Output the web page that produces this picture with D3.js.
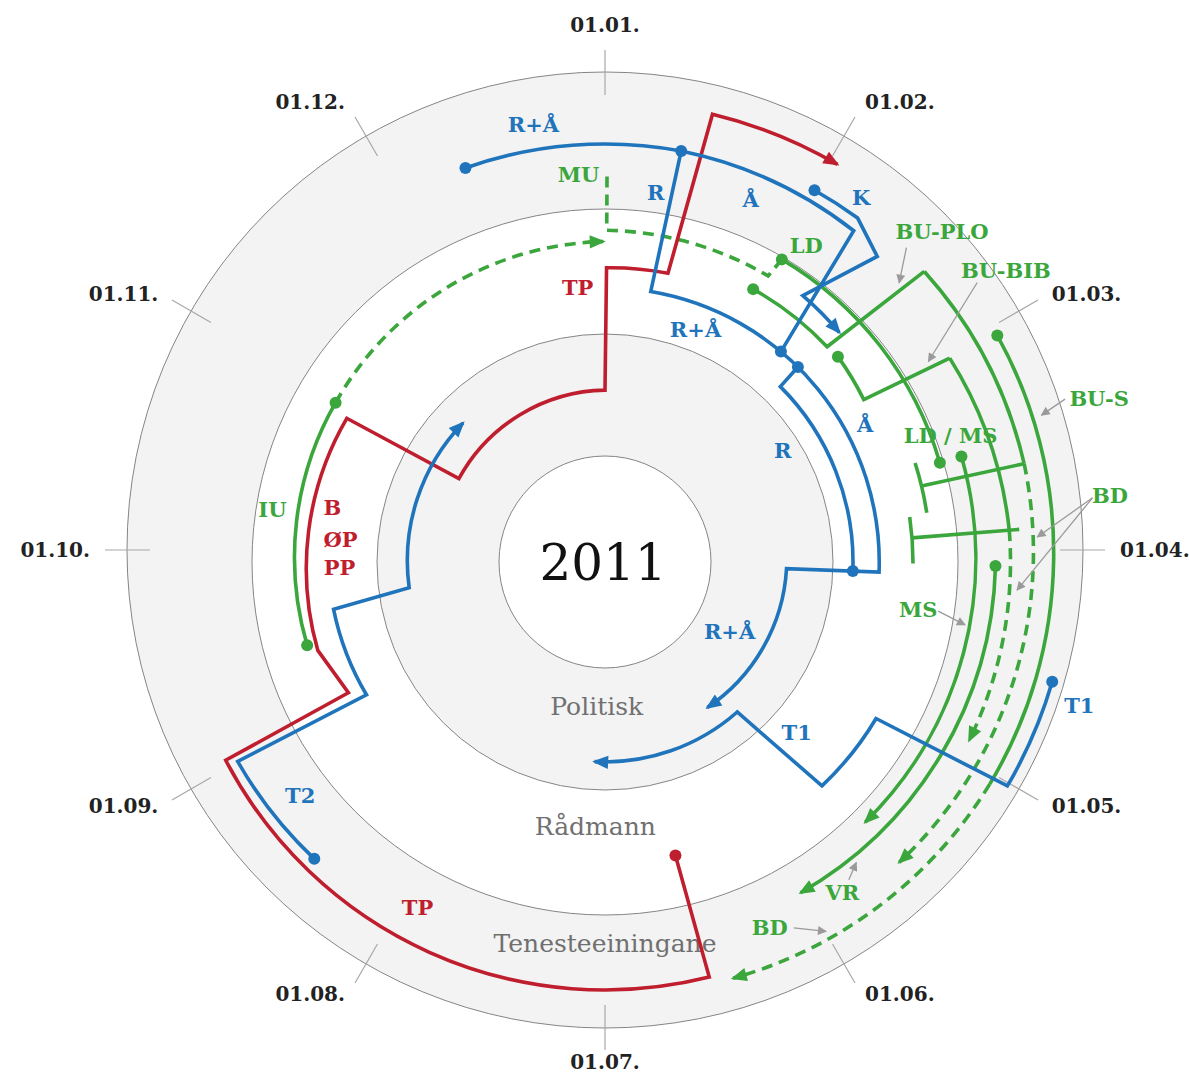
<!DOCTYPE html>
<html>
<head>
<meta charset="utf-8">
<script src="https://cdn.jsdelivr.net/npm/d3@7"></script>
<style>
  body { margin: 0; background: #fff; }
  text { font-family: "DejaVu Serif", serif; }
</style>
</head>
<body>
<svg id="chart" width="1189" height="1081"></svg>
<script>
// month ticks round the wheel, 01.01. at the top, clockwise
var monthTicks = ["01.01.", "01.02.", "01.03.", "01.04.", "01.05.", "01.06.",
                  "01.07.", "01.08.", "01.09.", "01.10.", "01.11.", "01.12."];
var yearLabel = "2011";
// rings from the inside out, label position as [month, lane]
var ringNames = ["Politisk", "Rådmann", "Tenesteeiningane"];
var ringLabelAt = [[6.11, 1.31], [6.07, 2.29], [6.0, 3.22]];

// routes: nodes are [month, lane, how we got there: "A" along the ring, "L" straight]
// lane 1 = edge of the inner disc, 2 = politisk edge, 3 = rådmann edge, 4 = outer edge
var blueRoutes = [
  { nodes: [[-0.65, 3.52], [0.35, 3.52, "A"], [0.32, 2.37, "L"], [3.07, 2.37, "A"], [3.07, 1.62, "L"], [4.83, 1.59, "A"]], start: "dot", end: "arrow" },
  { nodes: [[0.35, 3.52], [1.23, 3.49, "A"], [1.33, 2.37, "L"]], start: "dot", end: "dot" },
  { nodes: [[1.49, 2.37], [1.50, 2.16, "L"], [3.07, 2.16, "A"]], start: "dot", end: "dot" },
  { nodes: [[0.98, 3.59], [1.21, 3.59, "A"], [1.39, 3.45, "L"], [1.22, 2.83, "L"], [1.52, 2.80, "A"]], start: "dot", end: "arrow" },
  { nodes: [[3.50, 3.88], [3.97, 3.86, "A"], [4.00, 2.68, "L"], [4.53, 2.67, "A"], [4.62, 1.77, "L"], [6.10, 1.77, "A"]], start: "dot", end: "arrow" },
  { nodes: [[7.48, 3.50], [8.05, 3.52, "A"], [8.03, 2.36, "L"], [8.67, 2.38, "A"], [8.75, 1.75, "L"], [10.48, 1.76, "A"]], start: "dot", end: "arrow" }
];
var redRoutes = [
  { nodes: [[5.55, 2.59], [5.53, 3.60, "L"], [8.08, 3.60, "A"], [8.10, 2.48, "L"], [8.43, 2.58, "L"], [9.97, 2.54, "A"],
            [9.99, 1.51, "L"], [12.0, 1.54, "A"], [12.01, 2.53, "L"], [12.41, 2.54, "A"], [12.45, 3.86, "L"], [13.01, 3.86, "A"]],
    start: "dot", end: "arrow" }
];
var greenRoutes = [
  { nodes: [[8.48, 2.65], [10.02, 2.68, "A"]], start: "dot", end: "dot" },                       // IU
  { nodes: [[10.02, 2.68], [11.99, 2.74, "A"]], dash: true, end: "arrow" },
  { nodes: [[0.01, 3.26], [0.01, 2.83, "L"], [0.99, 2.81, "A"], [1.01, 2.98, "L"]], dash: true },   // MU
  { nodes: [[1.01, 2.98], [2.45, 2.97, "A"]], start: "dot", end: "dot" },                       // LD
  { nodes: [[0.95, 2.66], [1.53, 2.65, "A"], [1.59, 3.63, "L"]], start: "dot" },
  { nodes: [[1.59, 3.63], [2.56, 3.62, "A"]] },                                                 // BU-PLO
  { nodes: [[2.56, 3.62], [4.52, 3.54, "A"]], dash: true, end: "arrow" },
  { nodes: [[1.62, 2.66], [1.93, 2.62, "A"], [1.98, 3.38, "L"]], start: "dot" },
  { nodes: [[1.98, 3.38], [2.85, 3.42, "A"]] },                                                 // BU-BIB
  { nodes: [[2.85, 3.42], [3.87, 3.42, "A"]], dash: true, end: "arrow" },
  { nodes: [[2.41, 2.78], [2.71, 2.78, "A"]] },
  { nodes: [[2.55, 2.78], [2.56, 3.62, "L"]] },
  { nodes: [[2.72, 2.64], [3.01, 2.64, "A"]] },
  { nodes: [[2.85, 2.64], [2.85, 3.50, "L"]] },
  { nodes: [[2.00, 3.80], [4.00, 3.73, "A"]], start: "dot" },                                   // BU-S
  { nodes: [[4.00, 3.73], [5.43, 3.66, "A"]], dash: true, end: "arrow" },
  { nodes: [[2.45, 3.15], [4.50, 3.12, "A"]], start: "dot", end: "arrow" },                     // MS
  { nodes: [[3.02, 3.30], [4.98, 3.25, "A"]], start: "dot", end: "arrow" }                      // VR
];

// labels: [text, month, lane]
var blueLabels = [["R+Å", 11.69, 3.72], ["R", 0.26, 3.16], ["Å", 0.73, 3.30], ["K", 1.17, 3.74],
  ["R+Å", 0.71, 2.17], ["Å", 2.07, 2.53], ["R", 1.93, 1.85], ["R+Å", 3.97, 1.30],
  ["T1", 4.39, 2.23], ["T1", 3.56, 4.14], ["T2", 7.75, 3.25]];
var redLabels = [["TP", 11.81, 2.38], ["B", 9.38, 2.40], ["ØP", 9.16, 2.30], ["PP", 8.96, 2.30], ["TP", 6.95, 3.32]];
var greenLabels = [["MU", 11.87, 3.28], ["LD", 1.08, 3.18], ["BU-PLO", 1.52, 3.95], ["BU-BIB", 1.80, 4.14],
  ["BU-S", 2.39, 4.34], ["LD / MS", 2.33, 3.12], ["BD", 2.75, 4.25], ["MS", 3.29, 2.71],
  ["VR", 4.81, 3.43], ["BD", 5.19, 3.38], ["IU", 9.30, 2.87]];
// grey pointers from a label to its line: [[month, lane], [month, lane]]
var pointers = [
  [[1.46, 3.66], [1.55, 3.42]], [[1.77, 3.90], [1.94, 3.22]], [[2.35, 4.08], [2.38, 3.86]],
  [[2.75, 4.11], [2.89, 3.64]], [[2.75, 4.11], [3.13, 3.48]], [[3.28, 2.87], [3.33, 3.10]],
  [[4.75, 3.38], [4.67, 3.31]], [[5.09, 3.47], [4.97, 3.62]]
];

var colors = { blue: "#1f74bb", red: "#bf1e2e", green: "#3aa63c" };

var svg = d3.select("#chart");
var cx = 605, cy = 562;      // centre of the inner rings and routes
var ox = 605, oy = 550;      // the outer ring sits a little higher
var angle = d3.scaleLinear().domain([0, 12]).range([0, 2 * Math.PI]);
var radius = d3.scaleLinear().domain([0, 1, 2, 3, 4]).range([0, 106, 228, 353, 478]);

function pt(m, l) {
  var a = angle(m), r = radius(l);
  return [cx + r * Math.sin(a), cy - r * Math.cos(a)];
}

function routePath(nodes) {
  var d = "", prev = null;
  nodes.forEach(function(n, i) {
    var p = pt(n[0], n[1]);
    if (i === 0) d += "M" + p[0] + "," + p[1];
    else if (n[2] === "A") {
      var r = (radius(prev[1]) + radius(n[1])) / 2;
      var da = angle(n[0]) - angle(prev[0]);
      d += "A" + r + "," + r + " 0 " + (Math.abs(da) > Math.PI ? 1 : 0) + "," + (da > 0 ? 1 : 0) + " " + p[0] + "," + p[1];
    } else d += "L" + p[0] + "," + p[1];
    prev = n;
  });
  return d;
}

// arrow heads
var defs = svg.append("defs");
Object.keys(colors).forEach(function(k) {
  defs.append("marker").attr("id", "arrow-" + k)
    .attr("viewBox", "0 0 10 10").attr("refX", 8.5).attr("refY", 5)
    .attr("markerUnits", "userSpaceOnUse").attr("markerWidth", 19).attr("markerHeight", 16)
    .attr("orient", "auto")
    .append("path").attr("d", "M0,0.8L10,5L0,9.2Z").attr("fill", colors[k]);
});
defs.append("marker").attr("id", "arrow-grey")
  .attr("viewBox", "0 0 10 10").attr("refX", 9).attr("refY", 5)
  .attr("markerUnits", "userSpaceOnUse").attr("markerWidth", 10).attr("markerHeight", 9)
  .attr("orient", "auto")
  .append("path").attr("d", "M0,0L10,5L0,10Z").attr("fill", "#9a9a9a");

// rings
svg.append("circle").attr("cx", ox).attr("cy", oy).attr("r", radius(4))
  .attr("fill", "#f3f3f3").attr("stroke", "#858585").attr("stroke-width", 1);
svg.selectAll("circle.ring").data([3, 2, 1]).enter().append("circle")
  .attr("class", "ring")
  .attr("cx", cx).attr("cy", cy).attr("r", function(d) { return radius(d); })
  .attr("fill", function(d) { return d === 2 ? "#f3f3f3" : "#fff"; })
  .attr("stroke", "#858585").attr("stroke-width", 1);

// month ticks and labels
var tick = svg.append("g").selectAll("g").data(monthTicks).enter().append("g");
tick.append("line")
  .attr("x1", function(d, i) { return ox + 455 * Math.sin(angle(i)); })
  .attr("y1", function(d, i) { return oy - 455 * Math.cos(angle(i)); })
  .attr("x2", function(d, i) { return ox + 500 * Math.sin(angle(i)); })
  .attr("y2", function(d, i) { return oy - 500 * Math.cos(angle(i)); })
  .attr("stroke", "#a8a8a8").attr("stroke-width", 1.2);
tick.append("text")
  .attr("x", function(d, i) {
    var s = Math.sin(angle(i));
    return ox + 510 * s + (s > 0.1 ? 5 : s < -0.1 ? -5 : 0);
  })
  .attr("y", function(d, i) {
    var c = Math.cos(angle(i));
    return oy - 512 * c - 13 * Math.pow(Math.max(c, 0), 7);
  })
  .attr("dy", "0.36em")
  .attr("text-anchor", function(d, i) {
    var s = Math.sin(angle(i));
    return s > 0.1 ? "start" : s < -0.1 ? "end" : "middle";
  })
  .attr("font-size", 20).attr("font-weight", "bold").attr("fill", "#222")
  .text(function(d) { return d; });

// centre and ring names
svg.append("text").attr("x", cx - 2).attr("y", cy).attr("dy", "0.36em")
  .attr("text-anchor", "middle").attr("font-size", 50).attr("fill", "#111").text(yearLabel);
svg.selectAll("text.ring").data(ringNames).enter().append("text")
  .attr("class", "ring")
  .attr("x", function(d, i) { return pt(ringLabelAt[i][0], ringLabelAt[i][1])[0]; })
  .attr("y", function(d, i) { return pt(ringLabelAt[i][0], ringLabelAt[i][1])[1]; })
  .attr("dy", "0.36em").attr("text-anchor", "middle")
  .attr("font-size", 25).attr("fill", "#707070")
  .text(function(d) { return d; });

// routes
function drawRoutes(routes, key) {
  var g = svg.append("g");
  g.selectAll("path").data(routes).enter().append("path")
    .attr("d", function(d) { return routePath(d.nodes); })
    .attr("fill", "none").attr("stroke", colors[key]).attr("stroke-width", 3.6)
    .attr("stroke-linejoin", "miter")
    .attr("stroke-dasharray", function(d) { return d.dash ? "11,7" : null; })
    .attr("marker-end", function(d) { return d.end === "arrow" ? "url(#arrow-" + key + ")" : null; });
  var dots = [];
  routes.forEach(function(d) {
    if (d.start === "dot") dots.push(d.nodes[0]);
    if (d.end === "dot") dots.push(d.nodes[d.nodes.length - 1]);
  });
  g.selectAll("circle").data(dots).enter().append("circle")
    .attr("cx", function(d) { return pt(d[0], d[1])[0]; })
    .attr("cy", function(d) { return pt(d[0], d[1])[1]; })
    .attr("r", 6).attr("fill", colors[key]);
}
drawRoutes(greenRoutes, "green");
drawRoutes(redRoutes, "red");
drawRoutes(blueRoutes, "blue");

// grey pointers
svg.append("g").selectAll("line").data(pointers).enter().append("line")
  .attr("x1", function(d) { return pt(d[0][0], d[0][1])[0]; })
  .attr("y1", function(d) { return pt(d[0][0], d[0][1])[1]; })
  .attr("x2", function(d) { return pt(d[1][0], d[1][1])[0]; })
  .attr("y2", function(d) { return pt(d[1][0], d[1][1])[1]; })
  .attr("stroke", "#9a9a9a").attr("stroke-width", 1.3)
  .attr("marker-end", "url(#arrow-grey)");

// route labels
function drawLabels(labels, key) {
  svg.append("g").selectAll("text").data(labels).enter().append("text")
    .attr("x", function(d) { return pt(d[1], d[2])[0]; })
    .attr("y", function(d) { return pt(d[1], d[2])[1]; })
    .attr("dy", "0.36em").attr("text-anchor", "middle")
    .attr("font-size", 21).attr("font-weight", "bold").attr("fill", colors[key])
    .text(function(d) { return d[0]; });
}
drawLabels(blueLabels, "blue");
drawLabels(redLabels, "red");
drawLabels(greenLabels, "green");
</script>
</body>
</html>
